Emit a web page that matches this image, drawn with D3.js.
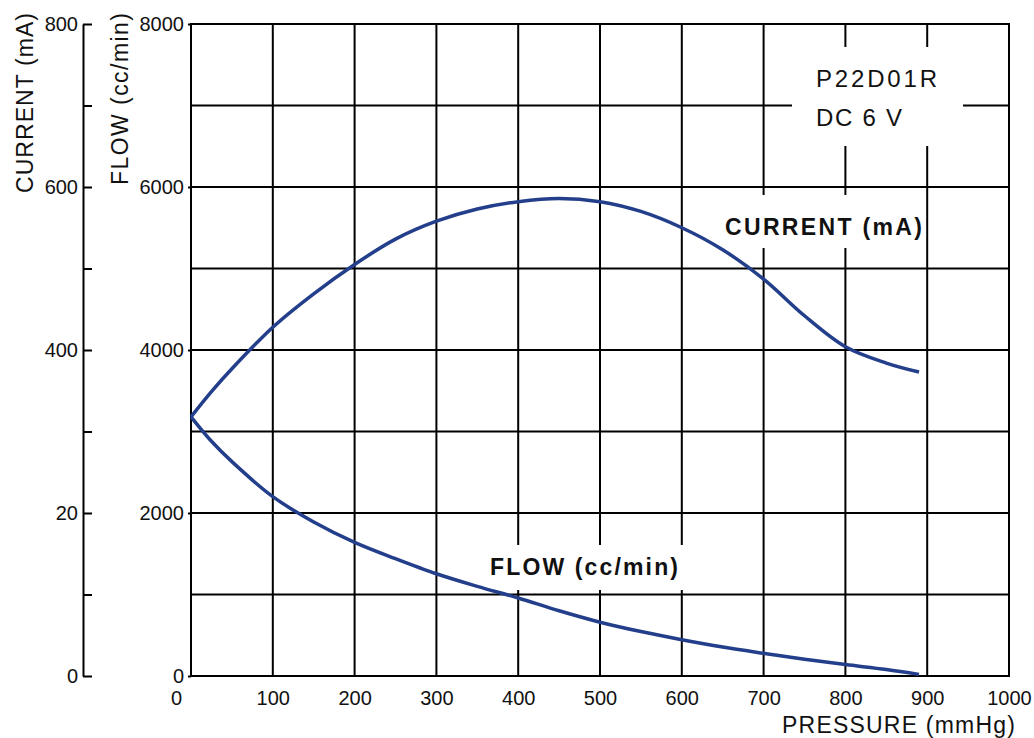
<!DOCTYPE html>
<html>
<head>
  <script src="https://d3js.org/d3.v7.min.js"></script>
  <title>P22D01R pump curve</title>
  <style>
    body { margin: 0; background: #fff; }
    text { font-family: "Liberation Sans", Arial, Helvetica, sans-serif; fill: #111; }
    .grid line { stroke: #000; stroke-width: 2; }
    .axis path, .axis line { stroke: #000; stroke-width: 2; }
    .curve { fill: none; stroke: #233e8b; stroke-width: 3.5; }
  </style>
</head>
<body>
<div id="chart"></div>
<script>
// pressure (mmHg) sample points
var pressure = [0, 25, 50, 100, 150, 200, 250, 300, 350, 400, 450, 500, 550, 600, 650, 700, 750, 800, 850, 890];
var currentMA = [318, 349, 377, 428, 469, 505, 536, 558, 573, 582, 586, 582, 570, 550, 523, 487, 442, 404, 384, 373];
var flowCcMin = [3180, 2880, 2630, 2200, 1890, 1640, 1440, 1255, 1100, 957, 800, 660, 545, 445, 355, 278, 205, 140, 80, 20];

var pressureTicks = [0, 100, 200, 300, 400, 500, 600, 700, 800, 900, 1000];
var flowTicks = [0, 2000, 4000, 6000, 8000];
var flowGrid = [1000, 2000, 3000, 4000, 5000, 6000, 7000];
var currentTicks = [0, 100, 200, 300, 400, 500, 600, 700, 800];
var currentLabels = { 0: "0", 200: "20", 400: "400", 600: "600", 800: "800" };

var width = 1034, height = 738;
var plotLeft = 191, plotRight = 1009, plotTop = 24, plotBottom = 676;
var currentAxisX = 83;

var svg = d3.select("#chart").append("svg")
  .attr("width", width)
  .attr("height", height);

var x = d3.scaleLinear().domain([0, 1000]).range([plotLeft, plotRight]);
var yFlow = d3.scaleLinear().domain([0, 8000]).range([plotBottom, plotTop]);
var yCur = d3.scaleLinear().domain([0, 800]).range([plotBottom, plotTop]);

// grid
var grid = svg.append("g").attr("class", "grid");
grid.selectAll(".v").data(pressureTicks.slice(1, -1)).enter().append("line")
  .attr("x1", function(d) { return x(d); }).attr("x2", function(d) { return x(d); })
  .attr("y1", plotTop).attr("y2", plotBottom);
grid.selectAll(".h").data(flowGrid).enter().append("line")
  .attr("x1", plotLeft).attr("x2", plotRight)
  .attr("y1", function(d) { return yFlow(d); }).attr("y2", function(d) { return yFlow(d); });

// white knock-outs behind the annotations
svg.append("rect").attr("x", 792).attr("y", 47).attr("width", 171).attr("height", 99).attr("fill", "#fff");
svg.append("rect").attr("x", 716).attr("y", 195).attr("width", 210).attr("height", 53).attr("fill", "#fff");
svg.append("rect").attr("x", 482).attr("y", 545).attr("width", 212).attr("height", 45).attr("fill", "#fff");

svg.append("rect")
  .attr("x", plotLeft).attr("y", plotTop)
  .attr("width", plotRight - plotLeft).attr("height", plotBottom - plotTop)
  .attr("fill", "none").attr("stroke", "#000").attr("stroke-width", 2);

// axes
var flowAxis = svg.append("g").attr("class", "axis")
  .attr("transform", "translate(" + plotLeft + ",0)")
  .call(d3.axisLeft(yFlow).tickValues(flowTicks).tickSizeInner(3).tickSizeOuter(0).tickPadding(4).tickFormat(d3.format("d")));
flowAxis.select(".domain").remove();

var curAxis = svg.append("g").attr("class", "axis")
  .attr("transform", "translate(" + currentAxisX + ",0)")
  .call(d3.axisLeft(yCur).tickValues(currentTicks).tickSizeInner(-9).tickSizeOuter(0).tickPadding(5)
    .tickFormat(function(d) { return currentLabels[d] || ""; }));

var xAxis = svg.append("g").attr("class", "axis")
  .attr("transform", "translate(0," + plotBottom + ")")
  .call(d3.axisBottom(x).tickValues(pressureTicks).tickSize(0).tickPadding(15).tickFormat(d3.format("d")));
xAxis.select(".domain").remove();
xAxis.selectAll(".tick text").filter(function(d) { return d === 0; }).attr("dx", -15);

svg.selectAll(".axis text")
  .attr("font-size", 20)
  .attr("font-family", "Liberation Sans, Arial, sans-serif")
  .attr("fill", "#111");

// axis titles
svg.append("text")
  .attr("transform", "translate(33,193) rotate(-90)")
  .attr("font-size", 23)
  .attr("textLength", 180).attr("lengthAdjust", "spacing")
  .text("CURRENT (mA)");
svg.append("text")
  .attr("transform", "translate(128,185) rotate(-90)")
  .attr("font-size", 23)
  .attr("textLength", 172).attr("lengthAdjust", "spacing")
  .text("FLOW (cc/min)");
svg.append("text")
  .attr("x", 782).attr("y", 733)
  .attr("font-size", 23)
  .attr("textLength", 233).attr("lengthAdjust", "spacing")
  .text("PRESSURE (mmHg)");

// model annotation
svg.append("text").attr("x", 816).attr("y", 87).attr("font-size", 24)
  .attr("textLength", 121).attr("lengthAdjust", "spacing").text("P22D01R");
svg.append("text").attr("x", 816).attr("y", 126).attr("font-size", 24)
  .attr("textLength", 86).attr("lengthAdjust", "spacing").text("DC 6 V");

// curves
var curLine = d3.line()
  .x(function(d, i) { return x(pressure[i]); })
  .y(function(d) { return yCur(d); })
  .curve(d3.curveCatmullRom.alpha(0.5));
var flowLine = d3.line()
  .x(function(d, i) { return x(pressure[i]); })
  .y(function(d) { return yFlow(d); })
  .curve(d3.curveCatmullRom.alpha(0.5));

svg.append("path").attr("class", "curve").attr("d", curLine(currentMA));
svg.append("path").attr("class", "curve").attr("d", flowLine(flowCcMin));

// series labels
svg.append("text").attr("x", 725).attr("y", 235)
  .attr("font-size", 23).attr("font-weight", "bold")
  .attr("textLength", 197).attr("lengthAdjust", "spacing")
  .text("CURRENT (mA)");
svg.append("text").attr("x", 490).attr("y", 575)
  .attr("font-size", 23).attr("font-weight", "bold")
  .attr("textLength", 188).attr("lengthAdjust", "spacing")
  .text("FLOW (cc/min)");
</script>
</body>
</html>
